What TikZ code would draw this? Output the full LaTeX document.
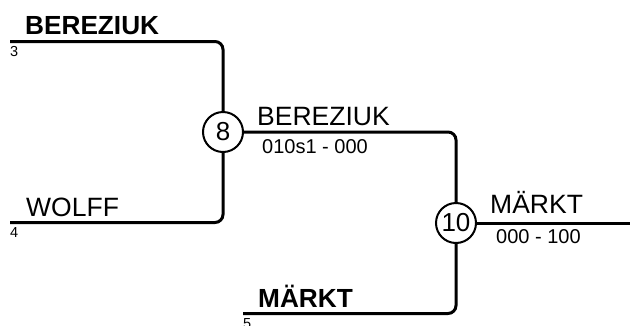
\documentclass[tikz,border=0pt]{standalone}
\usepackage{fontspec}
\setmainfont{Liberation Sans}
\begin{document}
\begin{tikzpicture}[x=1pt,y=-1pt,
  wire/.style={line width=3pt, rounded corners=8pt},
  match/.style={circle, draw, line width=2pt, minimum size=40pt, inner sep=0pt, font=\fontsize{26}{26}\selectfont},
  bigname/.style={anchor=base west, inner sep=0pt, font=\fontsize{26.5}{26.5}\selectfont},
  boldname/.style={anchor=base west, inner sep=0pt, font=\fontsize{26.2}{26.2}\selectfont\bfseries},
  score/.style={anchor=base west, inner sep=0pt, font=\fontsize{20}{20}\selectfont},
  seed/.style={anchor=base west, inner sep=0pt, font=\fontsize{14.5}{14.5}\selectfont}]
\useasboundingbox (0,0) rectangle (630,325);
% match nodes
\node[match] (n8) at (223,132) {8};
\node[match] (n10) at (456,223) {10};
% free ends
\coordinate (e3) at (10,41.5);
\coordinate (e4) at (10,222.5);
\coordinate (e5) at (243,313.5);
\coordinate (eout) at (630,223);
% connectors
\draw[wire] (e3) -| (n8.north);
\draw[wire] (e4) -| (n8.south);
\draw[wire] (n8.east) -| (n10.north);
\draw[wire] (e5) -| (n10.south);
\draw[wire] (n10.east) -- (eout);
% labels
\node[boldname] (t3) at (25,34) {BEREZIUK};
\node[seed] (s3) at (10,56) {3};
\node[bigname] (t4) at (26,216) {WOLFF};
\node[seed] (s4) at (10,237.5) {4};
\node[boldname] (t5) at (258,307) {MÄRKT};
\node[seed] (s5) at (243,328.5) {5};
\node[bigname] (t8) at (257,125) {BEREZIUK};
\node[score] (r8) at (262,153) {010s1 - 000};
\node[bigname] (t10) at (490,213) {MÄRKT};
\node[score] (r10) at (496,243) {000 - 100};
\end{tikzpicture}
\end{document}
